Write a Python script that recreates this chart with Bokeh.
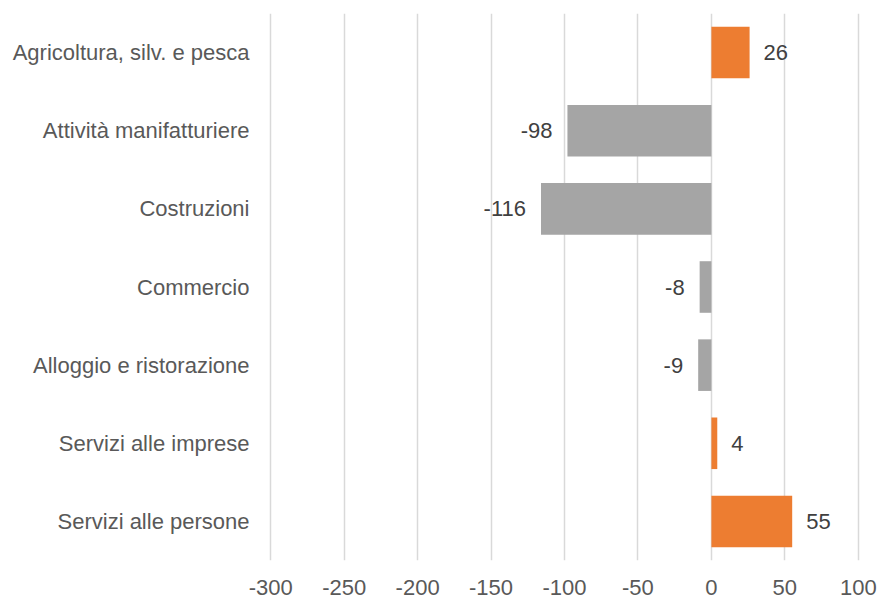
from bokeh.plotting import figure
from bokeh.models import ColumnDataSource, FactorRange, Range1d, FixedTicker, PrintfTickFormatter
from bokeh.core.properties import value
from bokeh.embed import file_html
from bokeh.resources import INLINE

categories = ["Agricoltura, silv. e pesca", "Attività manifatturiere", "Costruzioni",
              "Commercio", "Alloggio e ristorazione", "Servizi alle imprese",
              "Servizi alle persone"]
values = [26, -98, -116, -8, -9, 4, 55]
x_ticks = [-300, -250, -200, -150, -100, -50, 0, 50, 100]

ORANGE = "#ED7D31"
GRAY = "#A5A5A5"
FONT = "Liberation Sans"
FS = "22px"

colors = [ORANGE if v >= 0 else GRAY for v in values]
src = ColumnDataSource(dict(cat=categories, val=values, color=colors))
pos_src = ColumnDataSource(dict(cat=[c for c, v in zip(categories, values) if v >= 0],
                                val=[v for v in values if v >= 0],
                                label=[str(v) for v in values if v >= 0]))
neg_src = ColumnDataSource(dict(cat=[c for c, v in zip(categories, values) if v < 0],
                                val=[v for v in values if v < 0],
                                label=[str(v) for v in values if v < 0]))

p = figure(width=879, height=598, output_backend="svg", toolbar_location=None,
           y_range=FactorRange(factors=list(reversed(categories))),
           x_range=Range1d(-301.5, 101.5),
           min_border_left=268, min_border_right=19, min_border_top=13, min_border_bottom=38)
p.outline_line_color = None
p.background_fill_color = "white"
p.border_fill_color = "white"

p.hbar(y="cat", left=0, right="val", height=0.66, color="color", source=src, line_color=None)

p.text(x="val", y="cat", text="label", source=pos_src, text_align="left", text_baseline="middle",
       x_offset=14, text_font=value(FONT), text_font_size=FS, text_color="#404040")
p.text(x="val", y="cat", text="label", source=neg_src, text_align="right", text_baseline="middle",
       x_offset=-15, text_font=value(FONT), text_font_size=FS, text_color="#404040")

p.xaxis.ticker = FixedTicker(ticks=x_ticks)
p.xaxis.formatter = PrintfTickFormatter(format="%d")
p.xaxis.axis_line_color = None
p.xaxis.major_tick_line_color = None
p.xaxis.minor_tick_line_color = None
p.xaxis.major_label_standoff = 13
p.xaxis.major_label_text_font = FONT
p.xaxis.major_label_text_font_size = FS
p.xaxis.major_label_text_color = "#595959"

p.yaxis.axis_line_color = None
p.yaxis.major_tick_line_color = None
p.yaxis.minor_tick_line_color = None
p.yaxis.major_label_standoff = 13
p.yaxis.major_label_text_font = FONT
p.yaxis.major_label_text_font_size = FS
p.yaxis.major_label_text_color = "#595959"

p.xgrid.grid_line_color = "#D9D9D9"
p.xgrid.grid_line_width = 1.5
p.ygrid.grid_line_color = None

open("out.html", "w").write(file_html(p, INLINE))
